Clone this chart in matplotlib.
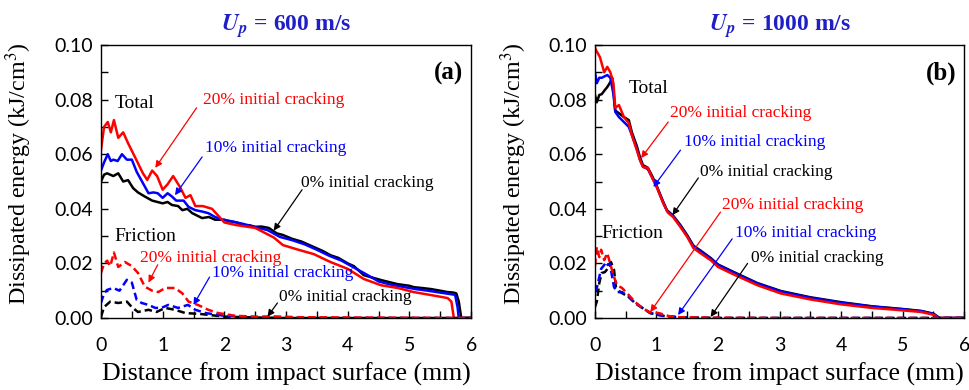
import matplotlib
matplotlib.use("Agg")
import matplotlib.pyplot as plt
from matplotlib.ticker import MultipleLocator

plt.rcParams['mathtext.fontset'] = 'stix'

# ---- panel (a): Up = 600 m/s ----
a_tot0_x = [0, 0.05, 0.1, 0.2, 0.28, 0.36, 0.44, 0.52, 0.6, 0.71, 0.83, 1.0, 1.08, 1.15, 1.25, 1.32, 1.4,
            1.48, 1.56, 1.64, 1.75, 1.85, 2.0, 2.07, 2.2, 2.3, 2.4, 2.5, 2.6, 2.72, 2.85, 2.95, 3.1, 3.25,
            3.45, 3.6, 3.72, 3.85, 4.0, 4.1, 4.26, 4.4, 4.54, 4.7, 4.81, 5.0, 5.07, 5.2, 5.35, 5.5, 5.62,
            5.72, 5.76, 5.8, 5.84, 6.0]
a_tot0_y = [0.050, 0.0525, 0.053, 0.052, 0.053, 0.050, 0.0505, 0.0476, 0.046, 0.0445, 0.043, 0.042, 0.0425,
            0.0414, 0.041, 0.0395, 0.040, 0.0384, 0.0375, 0.0366, 0.037, 0.036, 0.036, 0.0355, 0.035, 0.034,
            0.034, 0.0334, 0.0335, 0.033, 0.031, 0.0304, 0.029, 0.028, 0.026, 0.0245, 0.023, 0.022, 0.020,
            0.019, 0.0157, 0.0148, 0.0139, 0.013, 0.0124, 0.0118, 0.0113, 0.011, 0.0106, 0.010, 0.0095,
            0.0093, 0.009, 0.006, 0.0, 0.0]

a_tot10_x = [0, 0.05, 0.11, 0.16, 0.2, 0.27, 0.34, 0.42, 0.5, 0.58, 0.69, 0.77, 0.85, 0.92, 1.0, 1.08, 1.15,
             1.22, 1.34, 1.42, 1.53, 1.64, 1.74, 1.85, 1.97, 2.1, 2.3, 2.5, 2.7, 2.9, 3.1, 3.3, 3.5, 3.7, 3.9,
             4.1, 4.3, 4.5, 4.7, 4.9, 5.1, 5.3, 5.5, 5.65, 5.74, 5.78, 5.8, 6.0]
a_tot10_y = [0.054, 0.057, 0.060, 0.0575, 0.058, 0.0575, 0.060, 0.058, 0.058, 0.0535, 0.049, 0.0457, 0.046,
             0.0457, 0.044, 0.0457, 0.0445, 0.043, 0.043, 0.0407, 0.0395, 0.039, 0.0384, 0.037, 0.036, 0.0355,
             0.0345, 0.0333, 0.0322, 0.0297, 0.0285, 0.027, 0.025, 0.0228, 0.021, 0.0185, 0.016, 0.0134,
             0.0122, 0.0114, 0.0106, 0.010, 0.0093, 0.0088, 0.0085, 0.004, 0.0, 0.0]

a_tot20_x = [0, 0.05, 0.11, 0.16, 0.21, 0.28, 0.36, 0.44, 0.55, 0.68, 0.75, 0.83, 0.91, 1.0, 1.08, 1.17, 1.28,
             1.37, 1.45, 1.53, 1.65, 1.8, 2.0, 2.2, 2.5, 2.8, 2.95, 3.2, 3.45, 3.72, 4.0, 4.26, 4.54, 4.81,
             5.07, 5.35, 5.62, 5.68, 5.72, 6.0]
a_tot20_y = [0.0615, 0.070, 0.0718, 0.068, 0.0725, 0.066, 0.068, 0.064, 0.059, 0.053, 0.0506, 0.054, 0.052,
             0.047, 0.049, 0.052, 0.048, 0.044, 0.045, 0.041, 0.041, 0.040, 0.035, 0.034, 0.033, 0.0295,
             0.0267, 0.025, 0.0234, 0.0205, 0.018, 0.0143, 0.012, 0.011, 0.0095, 0.0084, 0.0073, 0.006,
             0.0, 0.0]

a_fr0_x = [0, 0.05, 0.15, 0.28, 0.42, 0.5, 0.6, 0.77, 0.9, 1.04, 1.2, 1.37, 1.6, 2.0, 2.5, 3.0, 6.0]
a_fr0_y = [0.0004, 0.004, 0.006, 0.0055, 0.006, 0.004, 0.0022, 0.003, 0.0022, 0.0037, 0.003, 0.0018, 0.0015,
           0.0005, 0.0002, 0.0, 0.0]
a_fr10_x = [0, 0.05, 0.1, 0.2, 0.3, 0.42, 0.5, 0.58, 0.66, 0.77, 0.88, 0.98, 1.09, 1.25, 1.41, 1.53, 1.7, 2.0,
            2.5, 3.0, 6.0]
a_fr10_y = [0.0055, 0.009, 0.0103, 0.011, 0.010, 0.014, 0.013, 0.0066, 0.0055, 0.0048, 0.0037, 0.0037, 0.0048,
            0.0037, 0.0048, 0.003, 0.0018, 0.0008, 0.0003, 0.0, 0.0]
a_fr20_x = [0, 0.05, 0.1, 0.15, 0.21, 0.28, 0.39, 0.5, 0.6, 0.71, 0.83, 0.93, 1.04, 1.2, 1.32, 1.42, 1.58, 1.74,
            1.9, 2.18, 2.5, 2.8, 3.2, 4.0, 5.0, 6.0]
a_fr20_y = [0.0165, 0.020, 0.021, 0.019, 0.024, 0.0187, 0.0205, 0.019, 0.0165, 0.0115, 0.010, 0.0095, 0.011,
            0.011, 0.009, 0.006, 0.0047, 0.003, 0.0018, 0.0008, 0.0005, 0.0006, 0.0003, 0.0002, 0.0001, 0.0]

# ---- panel (b): Up = 1000 m/s ----
b_tot0_x = [0, 0.03, 0.07, 0.11, 0.16, 0.2, 0.25, 0.28, 0.31, 0.33, 0.39, 0.47, 0.55, 0.6, 0.68, 0.73, 0.78,
            0.86, 0.93, 1.01, 1.11, 1.17, 1.27, 1.39, 1.5, 1.6, 1.71, 1.88, 2.0, 2.25, 2.64, 3.02, 3.5, 4.0,
            4.5, 5.0, 5.3, 5.5, 5.6, 6.0]
b_tot0_y = [0.0817, 0.079, 0.0817, 0.082, 0.0835, 0.0846, 0.0864, 0.088, 0.081, 0.076, 0.075, 0.0736, 0.0725,
            0.068, 0.063, 0.059, 0.056, 0.055, 0.052, 0.048, 0.0425, 0.0395, 0.0375, 0.034, 0.0303, 0.0265,
            0.0248, 0.022, 0.0196, 0.0169, 0.0128, 0.0099, 0.0076, 0.0058, 0.0043, 0.0033, 0.0026, 0.0016,
            0.0, 0.0]
b_tot10_x = [0, 0.03, 0.07, 0.11, 0.2, 0.25, 0.3, 0.33, 0.39, 0.47, 0.55, 0.6, 0.68, 0.73, 0.78, 0.86, 0.93,
             1.01, 1.11, 1.17, 1.27, 1.39, 1.5, 1.6, 1.71, 1.88, 2.0, 2.25, 2.64, 3.02, 3.5, 4.0, 4.5, 5.0, 5.3,
             5.5, 5.6, 6.0]
b_tot10_y = [0.090, 0.086, 0.088, 0.088, 0.089, 0.088, 0.082, 0.0755, 0.0736, 0.0718, 0.070, 0.067, 0.062,
             0.058, 0.0555, 0.0545, 0.0515, 0.0478, 0.0422, 0.0392, 0.0372, 0.0337, 0.030, 0.0262, 0.0245,
             0.0218, 0.0194, 0.0167, 0.0126, 0.0097, 0.0074, 0.0056, 0.0042, 0.0032, 0.0025, 0.0015, 0.0, 0.0]
b_tot20_x = [0, 0.02, 0.08, 0.15, 0.2, 0.25, 0.3, 0.33, 0.39, 0.47, 0.55, 0.6, 0.68, 0.73, 0.78, 0.86, 0.93,
             1.01, 1.11, 1.19, 1.27, 1.39, 1.5, 1.6, 1.71, 1.88, 2.0, 2.25, 2.64, 3.02, 3.5, 4.0, 4.5, 5.0,
             5.3, 5.5, 5.58, 6.0]
b_tot20_y = [0.099, 0.098, 0.0956, 0.090, 0.092, 0.090, 0.086, 0.077, 0.078, 0.0736, 0.0714, 0.067, 0.0615,
             0.058, 0.0553, 0.055, 0.0513, 0.0476, 0.042, 0.0385, 0.037, 0.0333, 0.0297, 0.0256, 0.0238,
             0.0212, 0.0187, 0.0160, 0.0120, 0.0090, 0.0068, 0.0050, 0.0037, 0.0028, 0.0022, 0.0012, 0.0, 0.0]

b_fr0_x = [0, 0.03, 0.07, 0.11, 0.16, 0.23, 0.26, 0.31, 0.34, 0.41, 0.55, 0.65, 0.77, 0.9, 1.1, 1.4, 2.0, 6.0]
b_fr0_y = [0.004, 0.006, 0.0128, 0.0165, 0.0168, 0.0187, 0.0205, 0.0176, 0.0113, 0.0095, 0.0077, 0.0055,
           0.0037, 0.0018, 0.0008, 0.0002, 0.0, 0.0]
b_fr10_x = [0, 0.03, 0.07, 0.1, 0.15, 0.18, 0.21, 0.24, 0.31, 0.36, 0.44, 0.55, 0.65, 0.77, 0.9, 1.1, 1.4, 2.0,
            6.0]
b_fr10_y = [0.0095, 0.011, 0.015, 0.018, 0.0194, 0.0205, 0.0194, 0.020, 0.0113, 0.0095, 0.0095, 0.0077,
            0.0055, 0.0037, 0.0018, 0.0008, 0.0002, 0.0, 0.0]
b_fr20_x = [0, 0.03, 0.07, 0.1, 0.15, 0.2, 0.24, 0.31, 0.36, 0.44, 0.55, 0.65, 0.77, 0.88, 1.04, 1.2, 1.38, 2.0,
            3.0, 6.0]
b_fr20_y = [0.019, 0.026, 0.0223, 0.025, 0.0212, 0.0238, 0.0205, 0.015, 0.012, 0.011, 0.0084, 0.0059, 0.0037,
            0.0022, 0.0018, 0.0007, 0.0003, 0.0001, 0.0, 0.0]

labels = ["0% initial cracking", "10% initial cracking", "20% initial cracking"]
colors = ["black", "blue", "red"]

SERIF = "Liberation Serif"
SANS = "Lato"


def setup_axes(ax, title, tag):
    ax.set_xlim(0, 6)
    ax.set_ylim(0, 0.1)
    ax.xaxis.set_major_locator(MultipleLocator(1))
    ax.xaxis.set_minor_locator(MultipleLocator(0.5))
    ax.yaxis.set_major_locator(MultipleLocator(0.02))
    ax.yaxis.set_minor_locator(MultipleLocator(0.01))
    ax.tick_params(which='both', direction='in', length=5, width=1, labelsize=14)
    ax.tick_params(axis='x', pad=14)
    ax.tick_params(axis='y', pad=6)
    for lab in ax.get_xticklabels() + ax.get_yticklabels():
        lab.set_family(SANS)
    ax.yaxis.set_major_formatter(matplotlib.ticker.FormatStrFormatter('%.2f'))
    for sp in ax.spines.values():
        sp.set_linewidth(1.0)
    ax.set_xlabel("Distance from impact surface (mm)", family=SERIF, fontsize=18.6)
    ax.set_ylabel("Dissipated energy (kJ/cm$^3$)", family=SERIF, fontsize=17.3)
    ax.xaxis.set_label_coords(0.5, -0.165)
    ax.yaxis.set_label_coords(-0.18, 0.53)
    ax.set_title(title, family=SERIF, fontsize=17, fontweight='bold', color='#1f1fc8', pad=10)
    ax.text(5.87, 0.0895, tag, family=SERIF, fontsize=18, fontweight='bold', ha='right', va='center')


def note(ax, text, color, xy_text, xy_head, tail):
    ax.text(xy_text[0], xy_text[1], text, color=color, family=SERIF, fontsize=12.5, va='center', ha='left')
    ax.annotate("", xy=xy_head, xytext=tail,
                arrowprops=dict(arrowstyle='-|>', color=color, lw=0.9, mutation_scale=10,
                                shrinkA=0, shrinkB=0))


fig = plt.figure(figsize=(9.69, 3.9), dpi=100)
ax1 = fig.add_axes([0.1042, 0.1846, 0.382, 0.70])
ax2 = fig.add_axes([0.614, 0.1846, 0.381, 0.70])

lw = 1.8
a_tot = [(a_tot0_x, a_tot0_y), (a_tot10_x, a_tot10_y), (a_tot20_x, a_tot20_y)]
a_fr = [(a_fr0_x, a_fr0_y), (a_fr10_x, a_fr10_y), (a_fr20_x, a_fr20_y)]
b_tot = [(b_tot0_x, b_tot0_y), (b_tot10_x, b_tot10_y), (b_tot20_x, b_tot20_y)]
b_fr = [(b_fr0_x, b_fr0_y), (b_fr10_x, b_fr10_y), (b_fr20_x, b_fr20_y)]

for ax, tot, fr in [(ax1, a_tot, a_fr), (ax2, b_tot, b_fr)]:
    for (x, y), c in zip(tot, colors):
        ax.plot(x, y, color=c, lw=lw, solid_joinstyle='round')
    for (x, y), c in zip(fr, colors):
        ax.plot(x, y, color=c, lw=lw, ls=(0, (3, 1.6)))

setup_axes(ax1, r"$\mathbfit{U}_{\mathbfit{p}}$ = 600 m/s", "(a)")
setup_axes(ax2, r"$\mathbfit{U}_{\mathbfit{p}}$ = 1000 m/s", "(b)")

# panel (a) annotations
ax1.text(0.22, 0.0787, "Total", family=SERIF, fontsize=14, va='center')
ax1.text(0.22, 0.0297, "Friction", family=SERIF, fontsize=14, va='center')
note(ax1, labels[2], 'red', (1.66, 0.080), (0.88, 0.055), (1.55, 0.077))
note(ax1, labels[1], 'blue', (1.69, 0.0623), (1.2, 0.045), (1.64, 0.059))
note(ax1, labels[0], 'black', (3.24, 0.0495), (2.8, 0.032), (3.26, 0.047))
note(ax1, labels[2], 'red', (0.63, 0.022), (0.77, 0.013), (0.92, 0.0195))
note(ax1, labels[1], 'blue', (1.8, 0.0165), (1.5, 0.0048), (1.76, 0.015))
note(ax1, labels[0], 'black', (2.88, 0.0077), (2.7, 0.0005), (2.86, 0.0055))

# panel (b) annotations
ax2.text(0.54, 0.084, "Total", family=SERIF, fontsize=14, va='center')
ax2.text(0.11, 0.0308, "Friction", family=SERIF, fontsize=14, va='center')
note(ax2, labels[2], 'red', (1.22, 0.075), (0.75, 0.0586), (1.19, 0.0718))
note(ax2, labels[1], 'blue', (1.44, 0.0645), (0.95, 0.048), (1.39, 0.0615))
note(ax2, labels[0], 'black', (1.71, 0.0535), (1.26, 0.0377), (1.68, 0.0513))
note(ax2, labels[2], 'red', (2.07, 0.0414), (0.9, 0.0022), (2.04, 0.0388))
note(ax2, labels[1], 'blue', (2.28, 0.031), (1.35, 0.0011), (2.23, 0.0290))
note(ax2, labels[0], 'black', (2.53, 0.022), (1.88, 0.0004), (2.48, 0.0200))

fig.savefig("out.png", dpi=100)
